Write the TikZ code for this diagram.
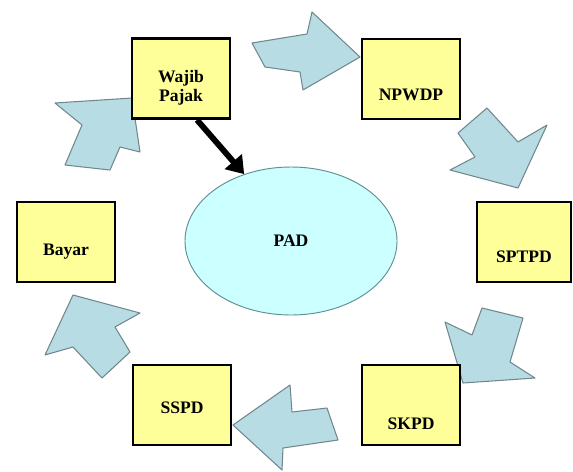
\documentclass[tikz,border=0pt]{standalone}
\usepackage{fontspec}
\setmainfont{Liberation Serif}
\usetikzlibrary{arrows.meta,shapes.geometric}

\definecolor{boxyellow}{HTML}{FFFF99}
\definecolor{padcyan}{HTML}{CCFFFF}
\definecolor{padedge}{HTML}{5E8F94}
\definecolor{arrblue}{HTML}{B7DCE3}
\definecolor{arredge}{HTML}{71878D}

\tikzset{
  box/.style={draw=black, line width=2.4pt, fill=boxyellow, inner sep=0pt,
    minimum width=2.94cm, minimum height=2.4cm},
  lbl/.style={font=\fontsize{15}{16}\selectfont\bfseries, inner sep=0pt, align=center},
  blockarrow/.style={draw=arredge, line width=0.9pt, fill=arrblue, line join=round},
}

\begin{document}
\begin{tikzpicture}[x=0.03cm,y=-0.03cm]
  \useasboundingbox (0,0) rectangle (573,471);

  % flow arrows round the cycle
  \draw[blockarrow] (360,57)--(312,12)--(307,34)--(252,43)--(265,67)--(300,72)--(303,90)--cycle;
  \draw[blockarrow] (518,188)--(450,170)--(475,157)--(458,133)--(487,108)--(518,142)--(547,125)--cycle;
  \draw[blockarrow] (463,383)--(445,322)--(472,335)--(482,308)--(523,318)--(510,362)--(535,378)--cycle;
  \draw[blockarrow] (233,425)--(290,385)--(292,412)--(327,408)--(338,440)--(283,448)--(282,470)--cycle;
  \draw[blockarrow] (73,295)--(140,313)--(115,327)--(130,352)--(102,378)--(73,347)--(45,355)--cycle;
  \draw[blockarrow] (132,98)--(55,103)--(82,125)--(65,165)--(110,170)--(120,147)--(140,152)--cycle;

  % boxes
  \node[box, label={[lbl,yshift=-0.27cm]center:Wajib\\Pajak}] (wp) at (181,78.5) {};
  \node[box, label={[lbl,yshift=-0.48cm]center:NPWDP}] (npwdp) at (411,79) {};
  \node[box, minimum width=2.82cm, label={[lbl,yshift=-0.45cm]center:SPTPD}] (sptpd) at (524,242) {};
  \node[box, label={[lbl,yshift=-0.57cm]center:SKPD}] (skpd) at (411,405) {};
  \node[box, label={[lbl,yshift=-0.09cm]center:SSPD}] (sspd) at (182,405) {};
  \node[box, label={[lbl,yshift=-0.3cm]center:Bayar}] (bayar) at (66,242) {};

  \node[ellipse, draw=padedge, line width=0.8pt, fill=padcyan, inner sep=0pt,
    minimum width=6.36cm, minimum height=4.44cm, font=\fontsize{15}{16}\selectfont\bfseries] (pad) at (291,241) {PAD};

  \draw[line width=5pt, -{Triangle[length=0.5cm,width=0.66cm]}] ([xshift=0.48cm]wp.south) -- (pad.125);
\end{tikzpicture}
\end{document}
